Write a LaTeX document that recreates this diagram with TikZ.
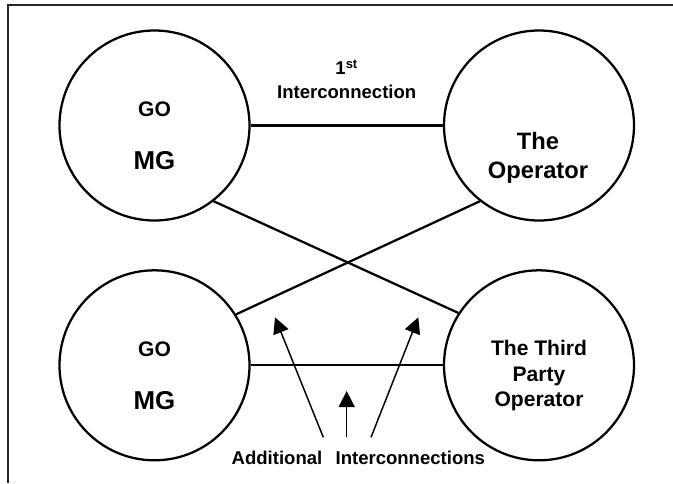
\documentclass[tikz,border=0pt]{standalone}
\usepackage{fontspec}
\setmainfont{Liberation Sans}
\usetikzlibrary{arrows.meta, calc}

\begin{document}
\begin{tikzpicture}[
  x=0.75pt, y=-0.75pt,
  party/.style = {circle, draw, line width=1.7pt, minimum size=142.5pt, inner sep=0pt},
  link/.style = {line width=1.7pt},
  pointer/.style = {-{Triangle[length=12pt, width=12pt]}, line width=1.1pt},
  frame/.style = {line width=0.8pt, black!85},
  every node/.style = {font=\bfseries, inner sep=0pt},
  gotxt/.style = {font=\bfseries\fontsize{15.8}{19}\selectfont},
  mgtxt/.style = {font=\bfseries\fontsize{19.4}{23}\selectfont},
  optxt/.style = {align=center, font=\bfseries\fontsize{17.8}{22.1}\selectfont},
  thirdtxt/.style = {align=center, font=\bfseries\fontsize{15.8}{19.1}\selectfont},
  captxt/.style = {align=center, font=\bfseries\fontsize{13.9}{17.6}\selectfont}
]

% Parameters
\def\xl{154.5}
\def\xr{539}
\def\yt{125.5}
\def\yb{365.3}

% Frame
\useasboundingbox (0,0) rectangle (673,483);
\coordinate (fbot) at (8,483);
\coordinate (fcorner) at (8,5);
\coordinate (fright) at (673,5);
\draw[frame] (fbot) -- (fcorner) -- (fright);

% Circles
\node[party] (tl) at (\xl,\yt) {};
\node[party] (tr) at (\xr,\yt) {};
\node[party] (bl) at (\xl,\yb) {};
\node[party] (br) at (\xr,\yb) {};

% Circle texts
\node[gotxt] (tlgo) at ($(tl)+(0,-16.7)$) {GO};
\node[mgtxt] (tlmg) at ($(tl)+(0,35.3)$) {MG};
\node[gotxt] (blgo) at ($(bl)+(0,-16.5)$) {GO};
\node[mgtxt] (blmg) at ($(bl)+(0,35.2)$) {MG};
\node[optxt] (trtxt) at ($(tr)+(-1,32.4)$) {The\\Operator};
\node[thirdtxt] (brtxt) at ($(br)+(0,10.5)$) {The Third\\Party\\Operator};

% Interconnections
\draw[link] (tl) -- (tr);
\draw[link] (bl) -- (br);
\draw[link] (tl.-52.6) -- (br.147);
\draw[link] (bl.32.6) -- (tr.232.5);

% Captions
\node[captxt, anchor=south] (first) at (346.7,98.9) {1\textsuperscript{st}\\Interconnection};
\node[captxt, anchor=base] (extra) at (358.3,464.9) {Additional\hspace{0.72em}Interconnections};

% Arrows
\coordinate (ltail) at (323.3,437.3);
\coordinate (ltip) at (275,317.3);
\coordinate (mtail) at (346.7,437.3);
\coordinate (mtip) at (346.7,391);
\coordinate (rtail) at (371,437.3);
\coordinate (rtip) at (418.3,317.3);
\draw[pointer] (ltail) -- (ltip);
\draw[pointer] (mtail) -- (mtip);
\draw[pointer] (rtail) -- (rtip);

\end{tikzpicture}
\end{document}
